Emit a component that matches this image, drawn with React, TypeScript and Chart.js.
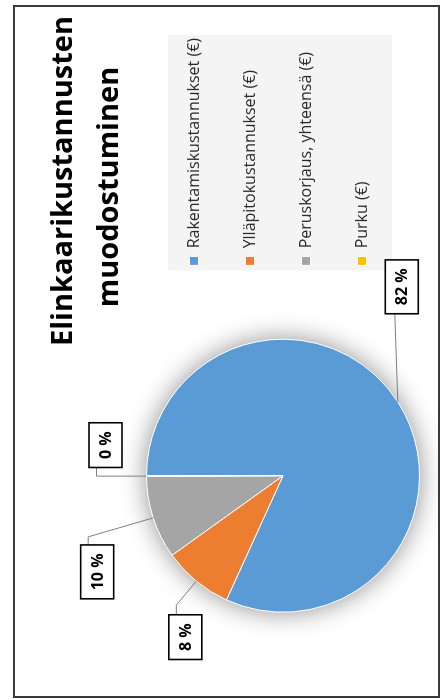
import React, { useEffect, useRef } from "react";
import { Chart, registerables } from "chart.js";

Chart.register(...registerables);

const titleLines = ["Elinkaarikustannusten", "muodostuminen"];
const categories = [
  "Rakentamiskustannukset (€)",
  "Ylläpitokustannukset (€)",
  "Peruskorjaus, yhteensä (€)",
  "Purku (€)",
];
const shares = [81.8, 8.3, 9.8, 0.1];
const colors = ["#5B9BD5", "#ED7D31", "#A5A5A5", "#FFC000"];

// label callout geometry (offsets from the slice's mid-edge point)
const leaderPaths: number[][][] = [
  [[88, -3]],
  [[-24, -20], [-34, -20]],
  [[-19, -65], [-28, -65]],
  [[0, -50], [9, -50]],
];
const boxCenters: number[][] = [
  [115, 4],
  [-56, -11],
  [-54, -56],
  [31, -41],
];

const W = 693;
const H = 427;
const B = 2;

const titlePlugin = {
  id: "rotTitle",
  afterDraw(chart: any) {
    const ctx = chart.ctx;
    ctx.save();
    ctx.fillStyle = "#000";
    ctx.font = 'bold 29px "Open Sans"';
    ctx.textAlign = "center";
    ctx.textBaseline = "alphabetic";
    ctx.fillText(titleLines[0], 515, 57);
    ctx.fillText(titleLines[1], 509, 103);
    ctx.restore();
  },
};

const legendBgPlugin = {
  id: "legendBg",
  beforeDraw(chart: any) {
    const lg = chart.legend;
    if (!lg || !lg.legendHitBoxes || !lg.legendHitBoxes.length) return;
    const hb = lg.legendHitBoxes;
    let l = Infinity, r = -Infinity, t = Infinity, b = -Infinity;
    hb.forEach((h: any) => {
      l = Math.min(l, h.left);
      r = Math.max(r, h.left + h.width);
      t = Math.min(t, h.top);
      b = Math.max(b, h.top + h.height);
    });
    const ctx = chart.ctx;
    ctx.save();
    ctx.fillStyle = "#f4f4f4";
    ctx.fillRect(l - 5, t - 18, r - l + 8, b - t + 40);
    ctx.restore();
  },
};

const shadowPlugin = {
  id: "pieShadow",
  beforeDatasetsDraw(chart: any) {
    const arc = chart.getDatasetMeta(0).data[0];
    if (!arc) return;
    const ctx = chart.ctx;
    ctx.save();
    ctx.shadowColor = "rgba(0,0,0,0.45)";
    ctx.shadowBlur = 26;
    ctx.fillStyle = "#ffffff";
    ctx.beginPath();
    ctx.arc(arc.x, arc.y, arc.outerRadius, 0, Math.PI * 2);
    ctx.fill();
    ctx.restore();
  },
};

const calloutPlugin = {
  id: "callouts",
  afterDatasetsDraw(chart: any) {
    const meta = chart.getDatasetMeta(0);
    const data = chart.data.datasets[0].data as number[];
    const total = data.reduce((a, v) => a + v, 0);
    const ctx = chart.ctx;
    ctx.save();
    meta.data.forEach((arc: any, i: number) => {
      const mid = (arc.startAngle + arc.endAngle) / 2;
      const px = arc.x + arc.outerRadius * Math.cos(mid);
      const py = arc.y + arc.outerRadius * Math.sin(mid);
      ctx.strokeStyle = "#7f7f7f";
      ctx.lineWidth = 1;
      ctx.beginPath();
      ctx.moveTo(px, py);
      leaderPaths[i].forEach((p) => ctx.lineTo(px + p[0], py + p[1]));
      ctx.stroke();
      const text = Math.round((data[i] / total) * 100) + " %";
      ctx.font = 'bold 16px "Open Sans"';
      const tw = ctx.measureText(text).width;
      const bw = tw + 17;
      const bh = 33;
      const cx = px + boxCenters[i][0];
      const cy = py + boxCenters[i][1];
      ctx.fillStyle = "#ffffff";
      ctx.fillRect(cx - bw / 2, cy - bh / 2, bw, bh);
      ctx.strokeStyle = "#000000";
      ctx.lineWidth = 1.6;
      ctx.strokeRect(cx - bw / 2, cy - bh / 2, bw, bh);
      ctx.fillStyle = "#000000";
      ctx.textAlign = "center";
      ctx.textBaseline = "middle";
      ctx.fillText(text, cx, cy + 1);
    });
    ctx.restore();
  },
};

export default function App() {
  const ref = useRef<HTMLCanvasElement>(null);
  useEffect(() => {
    if (!ref.current) return;
    const chart = new Chart(ref.current, {
      type: "pie",
      data: {
        labels: categories,
        datasets: [
          {
            data: shares,
            backgroundColor: colors,
            borderColor: "#ffffff",
            borderWidth: 1,
          },
        ],
      },
      options: {
        responsive: false,
        animation: false,
        layout: { padding: { top: 131, bottom: 18, left: 50, right: 21 } },
        plugins: {
          title: { display: false },
          tooltip: { enabled: false },
          legend: {
            display: true,
            position: "right",
            align: "start",
            labels: {
              boxWidth: 9,
              boxHeight: 9,
              padding: 40,
              color: "#2b2b2b",
              font: { family: '"Open Sans"', size: 16 },
            },
          },
        },
      },
      plugins: [legendBgPlugin, shadowPlugin, calloutPlugin, titlePlugin],
    });
    return () => chart.destroy();
  }, []);
  return (
    <div
      style={{
        position: "fixed",
        left: (13 + 440) / 2 - W / 2,
        top: (5 + 698) / 2 - H / 2,
        width: W,
        height: H,
        boxSizing: "border-box",
        border: `${B}px solid #3a3a3a`,
        background: "#ffffff",
        transform: "rotate(-90deg)",
      }}
    >
      <canvas
        ref={ref}
        width={W - 2 * B}
        height={H - 2 * B}
        style={{ display: "block", width: W - 2 * B, height: H - 2 * B }}
      />
    </div>
  );
}
